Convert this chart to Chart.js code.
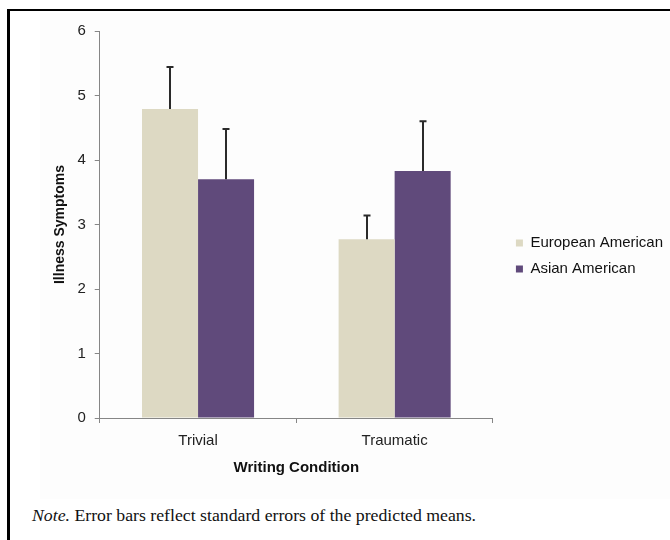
<!DOCTYPE html>
<html>
<head>
<meta charset="utf-8">
<script src="https://cdn.jsdelivr.net/npm/chart.js@4"></script>
<style>
  html, body { margin: 0; padding: 0; background: #ffffff; }
  body { width: 670px; height: 540px; position: relative; overflow: hidden; }
  #frame { position: absolute; left: 7px; top: 9px; width: 700px; height: 560px;
           border-top: 2px solid #000; border-left: 3px solid #000; }
  #wrap { position: absolute; left: 40px; top: 13px; width: 640px; height: 486px; background: #fdfdfd; }
  #note { position: absolute; left: 32px; top: 505px; font-family: "Liberation Serif", "Times New Roman", serif;
          font-size: 17.75px; line-height: 20px; color: #111; white-space: nowrap; }
</style>
</head>
<body>
<div id="frame"></div>
<div id="wrap"><canvas id="c" width="640" height="486"></canvas></div>
<div id="note"><i>Note.</i> Error bars reflect standard errors of the predicted means.</div>
<script>
// ---- data ----
const categories = ['Trivial', 'Traumatic'];
const seriesNames = ['European American', 'Asian American'];
const europeanAmerican = [4.79, 2.77];
const asianAmerican = [3.70, 3.83];
const europeanAmericanSE = [0.65, 0.37];
const asianAmericanSE = [0.78, 0.77];
const yTicks = [0, 1, 2, 3, 4, 5, 6];

const FONT = '"Liberation Sans", Arial, sans-serif';
const AXIS = '#868686';

const errorBars = {
  id: 'errorBars',
  afterDatasetsDraw(chart) {
    const ctx = chart.ctx;
    const y = chart.scales.y;
    ctx.save();
    ctx.strokeStyle = '#2a2a2a';
    ctx.lineWidth = 2;
    chart.data.datasets.forEach((ds, di) => {
      const meta = chart.getDatasetMeta(di);
      meta.data.forEach((bar, i) => {
        const top = y.getPixelForValue(ds.data[i] + ds.errors[i]);
        const x = Math.round(bar.x);
        ctx.beginPath();
        ctx.moveTo(x, bar.y);
        ctx.lineTo(x, top);
        ctx.moveTo(x - 3.5, top);
        ctx.lineTo(x + 3.5, top);
        ctx.stroke();
      });
    });
    ctx.restore();
  }
};

new Chart(document.getElementById('c'), {
  type: 'bar',
  data: {
    labels: categories,
    datasets: [
      { label: seriesNames[0], data: europeanAmerican, errors: europeanAmericanSE,
        backgroundColor: '#DDD9C3', borderWidth: 0, yAxisID: 'y' },
      { label: seriesNames[1], data: asianAmerican, errors: asianAmericanSE,
        backgroundColor: '#604A7B', borderWidth: 0, yAxisID: 'y' }
    ]
  },
  options: {
    responsive: false,
    animation: false,
    devicePixelRatio: 1,
    categoryPercentage: 0.57,
    barPercentage: 1.0,
    layout: { padding: { top: 0, left: 7, right: 7, bottom: 0 } },
    plugins: {
      legend: {
        position: 'right',
        align: 'center',
        maxWidth: 220,
        labels: {
          boxWidth: 7, boxHeight: 7, padding: 11,
          color: '#111', font: { family: FONT, size: 15 }
        }
      },
      tooltip: { enabled: false }
    },
    scales: {
      x: {
        grid: { display: true, offset: true, drawOnChartArea: false, drawTicks: true, tickLength: 5, color: AXIS },
        border: { display: true, color: AXIS, width: 1 },
        ticks: { color: '#222', padding: 8.7, font: { family: FONT, size: 15 } },
        title: { display: true, text: 'Writing Condition', color: '#111',
                 font: { family: FONT, size: 15, weight: 'bold' }, padding: { top: 0, bottom: 22.6 } }
      },
      y: {
        min: 0, max: 6,
        afterBuildTicks(s) { s.ticks = yTicks.map(v => ({ value: v })); },
        grid: { display: true, drawOnChartArea: false, drawTicks: true, tickLength: 5, color: AXIS },
        border: { display: true, color: AXIS, width: 1 },
        ticks: { color: '#222', padding: 9, font: { family: FONT, size: 15 } },
        title: { display: true, text: 'Illness Symptoms', color: '#111',
                 font: { family: FONT, size: 14, weight: 'bold' }, padding: { top: 4.6, bottom: 0 } }
      },
      gap: {
        type: 'linear', position: 'right', display: true,
        grid: { display: false }, border: { display: false }, ticks: { display: false },
        afterFit(s) { s.width = 12; }
      }
    }
  },
  plugins: [errorBars]
});
</script>
</body>
</html>
